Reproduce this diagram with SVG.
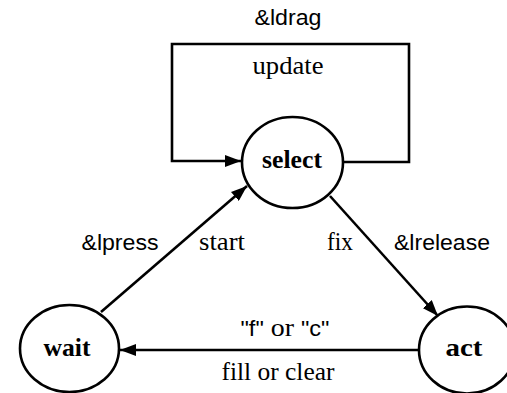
<svg xmlns="http://www.w3.org/2000/svg" width="507" height="393" viewBox="0 0 507 393">
<style>
.node{fill:#fff;stroke:#000;stroke-width:2.6}
.conn{fill:none;stroke:#000;stroke-width:2.6}
.nl{font-family:"Liberation Serif",serif;font-weight:bold;font-size:26px;text-anchor:middle;fill:#000}
.sans{font-family:"Liberation Sans",Arial,sans-serif;font-size:22px;text-anchor:middle;fill:#000}
.serif{font-family:"Liberation Serif",serif;font-size:26px;text-anchor:middle;fill:#000}
</style>
<defs>
<marker id="ah" viewBox="0 0 16 12" refX="16" refY="6" markerWidth="16" markerHeight="12" markerUnits="userSpaceOnUse" orient="auto">
<path d="M0,0 L16,6 L0,12 Z" fill="#000"/>
</marker>
</defs>
<rect width="507" height="393" fill="#fff"/>
<g id="connectors">
<path class="conn" d="M343,162 H409 V44 H172 V161 H241" marker-end="url(#ah)"/>
<path class="conn" d="M101,312 L247,186" marker-end="url(#ah)"/>
<path class="conn" d="M330,196 L438,316" marker-end="url(#ah)"/>
<path class="conn" d="M419,350 H120" marker-end="url(#ah)"/>
</g>
<g id="select">
<ellipse class="node" cx="292.5" cy="162.5" rx="50.5" ry="45.5"/>
<text class="nl" x="292" y="168" textLength="60" lengthAdjust="spacingAndGlyphs">select</text>
</g>
<g id="wait">
<ellipse class="node" cx="69.5" cy="348.5" rx="49.5" ry="43.5"/>
<text class="nl" x="67" y="356" textLength="47" lengthAdjust="spacingAndGlyphs">wait</text>
</g>
<g id="act">
<ellipse class="node" cx="467" cy="350" rx="48" ry="43.5"/>
<text class="nl" x="464" y="356" textLength="37" lengthAdjust="spacingAndGlyphs">act</text>
</g>
<g id="labels">
<text class="sans" x="288" y="25" textLength="67" lengthAdjust="spacingAndGlyphs">&amp;ldrag</text>
<text class="serif" x="288" y="74" textLength="71" lengthAdjust="spacingAndGlyphs">update</text>
<text class="sans" x="120" y="250" textLength="77" lengthAdjust="spacingAndGlyphs">&amp;lpress</text>
<text class="serif" x="222" y="250" textLength="46" lengthAdjust="spacingAndGlyphs">start</text>
<text class="serif" x="340" y="250" textLength="26" lengthAdjust="spacingAndGlyphs">fix</text>
<text class="sans" x="442" y="250" textLength="96" lengthAdjust="spacingAndGlyphs">&amp;lrelease</text>
<text x="285" y="336" textLength="89" lengthAdjust="spacingAndGlyphs" style="font-size:22px;text-anchor:middle;fill:#000"><tspan font-family="Liberation Sans, Arial, sans-serif">"f"</tspan><tspan font-family="Liberation Serif, serif" font-size="26"> or </tspan><tspan font-family="Liberation Sans, Arial, sans-serif">"c"</tspan></text>
<text class="serif" x="278" y="380" textLength="113" lengthAdjust="spacingAndGlyphs">fill or clear</text>
</g>
</svg>
